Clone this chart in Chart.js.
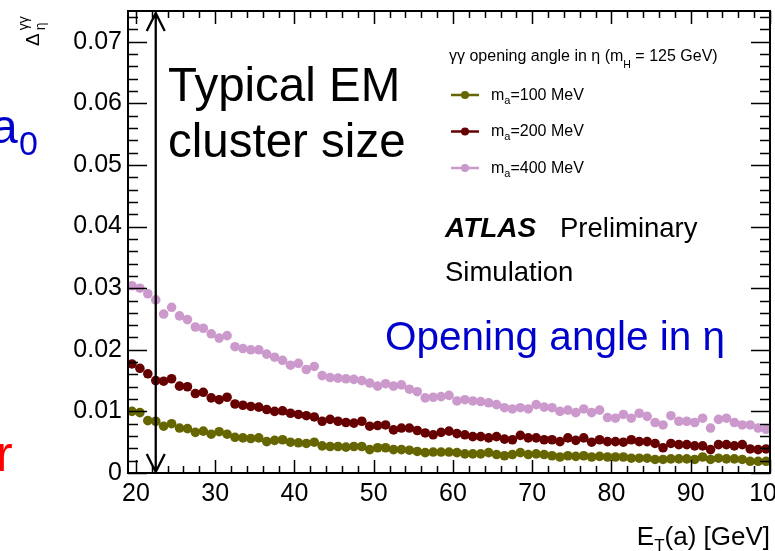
<!DOCTYPE html>
<html>
<head>
<meta charset="utf-8">
<script src="https://cdn.jsdelivr.net/npm/chart.js@4.4.1/dist/chart.umd.min.js"></script>
<style>
  html, body { margin: 0; padding: 0; background: #fff; }
  #wrap { position: relative; width: 775px; height: 551px; overflow: hidden; }
</style>
</head>
<body>
<div id="wrap"><canvas id="angleChart" width="775" height="551"></canvas></div>
<script>
// E_T(a) bin centres [GeV]
const etBins = [
  19.5, 20.5, 21.5, 22.5, 23.5, 24.5, 25.5, 26.5, 27.5, 28.5, 29.5, 30.5, 31.5, 32.5, 33.5, 34.5,
  35.5, 36.5, 37.5, 38.5, 39.5, 40.5, 41.5, 42.5, 43.5, 44.5, 45.5, 46.5, 47.5, 48.5, 49.5, 50.5,
  51.5, 52.5, 53.5, 54.5, 55.5, 56.5, 57.5, 58.5, 59.5, 60.5, 61.5, 62.5, 63.5, 64.5, 65.5, 66.5,
  67.5, 68.5, 69.5, 70.5, 71.5, 72.5, 73.5, 74.5, 75.5, 76.5, 77.5, 78.5, 79.5, 80.5, 81.5, 82.5,
  83.5, 84.5, 85.5, 86.5, 87.5, 88.5, 89.5, 90.5, 91.5, 92.5, 93.5, 94.5, 95.5, 96.5, 97.5, 98.5, 99.5
];

// opening angle in eta, m_a = 100 MeV
const ma100 = [
  0.0100, 0.0098, 0.0085, 0.0084, 0.0076, 0.0080, 0.0073, 0.0072, 0.0066, 0.0068, 0.0063, 0.0067, 0.0063, 0.0058, 0.0057, 0.0056,
  0.0057, 0.0051, 0.0053, 0.0054, 0.0050, 0.0049, 0.0048, 0.0050, 0.0044, 0.0043, 0.0043, 0.0042, 0.0043, 0.0043, 0.0038, 0.0041,
  0.0041, 0.0038, 0.0038, 0.0037, 0.0035, 0.0033, 0.0034, 0.0034, 0.0034, 0.0033, 0.0031, 0.0031, 0.0031, 0.0033, 0.0030, 0.0028,
  0.0030, 0.0033, 0.0030, 0.0031, 0.0030, 0.0028, 0.0026, 0.0028, 0.0027, 0.0028, 0.0026, 0.0027, 0.0026, 0.0026, 0.0026, 0.0024,
  0.0024, 0.0024, 0.0022, 0.0022, 0.0023, 0.0023, 0.0023, 0.0022, 0.0026, 0.0022, 0.0024, 0.0023, 0.0023, 0.0022, 0.0019, 0.0019, 0.0019
];

// m_a = 200 MeV
const ma200 = [
  0.0177, 0.0170, 0.0161, 0.0150, 0.0149, 0.0153, 0.0141, 0.0140, 0.0129, 0.0131, 0.0122, 0.0119, 0.0123, 0.0112, 0.0110, 0.0108,
  0.0107, 0.0103, 0.0100, 0.0101, 0.0097, 0.0095, 0.0093, 0.0091, 0.0084, 0.0087, 0.0084, 0.0082, 0.0081, 0.0084, 0.0076, 0.0077,
  0.0078, 0.0070, 0.0073, 0.0073, 0.0069, 0.0065, 0.0062, 0.0066, 0.0068, 0.0064, 0.0062, 0.0059, 0.0059, 0.0057, 0.0059, 0.0055,
  0.0054, 0.0061, 0.0057, 0.0057, 0.0054, 0.0054, 0.0051, 0.0057, 0.0053, 0.0057, 0.0050, 0.0054, 0.0051, 0.0051, 0.0050, 0.0054,
  0.0051, 0.0051, 0.0048, 0.0041, 0.0048, 0.0046, 0.0046, 0.0044, 0.0044, 0.0038, 0.0046, 0.0046, 0.0044, 0.0046, 0.0039, 0.0038, 0.0039
];

// m_a = 400 MeV
const ma400 = [
  0.0304, 0.0300, 0.0291, 0.0281, 0.0258, 0.0269, 0.0255, 0.0249, 0.0237, 0.0235, 0.0226, 0.0219, 0.0223, 0.0205, 0.0202, 0.0200,
  0.0200, 0.0193, 0.0188, 0.0183, 0.0175, 0.0178, 0.0168, 0.0173, 0.0158, 0.0155, 0.0154, 0.0153, 0.0152, 0.0150, 0.0146, 0.0141,
  0.0145, 0.0141, 0.0143, 0.0136, 0.0132, 0.0122, 0.0123, 0.0124, 0.0126, 0.0117, 0.0119, 0.0117, 0.0116, 0.0114, 0.0111, 0.0106,
  0.0104, 0.0106, 0.0104, 0.0111, 0.0107, 0.0106, 0.0100, 0.0102, 0.0098, 0.0104, 0.0098, 0.0102, 0.0090, 0.0089, 0.0095, 0.0089,
  0.0097, 0.0092, 0.0082, 0.0078, 0.0093, 0.0084, 0.0084, 0.0082, 0.0089, 0.0073, 0.0087, 0.0089, 0.0082, 0.0078, 0.0078, 0.0073, 0.0071
];

const xTicks = [20, 30, 40, 50, 60, 70, 80, 90, 100];
const yTicks = [0, 0.01, 0.02, 0.03, 0.04, 0.05, 0.06, 0.07];

const seriesLabels = ['100', '200', '400'];
const seriesColors = ['#666600', '#660000', '#cc99cc'];

const FONT = '"Liberation Sans", Arial, Helvetica, sans-serif';

// draw a run of text pieces: [text, size, dy, style]
function drawRuns(ctx, x, y, runs) {
  runs.forEach(r => {
    ctx.font = (r[3] || '') + ' ' + r[1] + 'px ' + FONT;
    ctx.fillText(r[0], x, y + (r[2] || 0));
    x += ctx.measureText(r[0]).width;
  });
  return x;
}

function runsWidth(ctx, runs) {
  let w = 0;
  runs.forEach(r => {
    ctx.font = (r[3] || '') + ' ' + r[1] + 'px ' + FONT;
    w += ctx.measureText(r[0]).width;
  });
  return w;
}

// ROOT-like frame with ticks on all four sides
const framePlugin = {
  id: 'frame',
  afterDatasetsDraw(chart) {
    const {ctx, chartArea: a, scales: {x, y}} = chart;
    ctx.save();
    ctx.strokeStyle = '#000';
    ctx.lineWidth = 1.5;
    ctx.beginPath();
    for (let v = 20; v <= 100; v += 2) {
      const px = Math.round(x.getPixelForValue(v)) + 0.5;
      const len = v % 10 === 0 ? 13 : 7;
      ctx.moveTo(px, a.bottom); ctx.lineTo(px, a.bottom - len);
      ctx.moveTo(px, a.top); ctx.lineTo(px, a.top + len);
    }
    for (let k = 0; k <= 37; k++) {
      const py = Math.round(y.getPixelForValue(k * 0.002)) + 0.5;
      const len = k % 5 === 0 ? 19 : 10;
      ctx.moveTo(a.left, py); ctx.lineTo(a.left + len, py);
      ctx.moveTo(a.right, py); ctx.lineTo(a.right - len, py);
    }
    ctx.stroke();
    ctx.lineWidth = 2;
    ctx.strokeRect(a.left, a.top, a.right - a.left, a.bottom - a.top);
    ctx.restore();
  }
};

// labels, legend, arrow and axis titles
const notesPlugin = {
  id: 'notes',
  afterDraw(chart) {
    const {ctx, chartArea: a, scales: {x}} = chart;
    ctx.save();
    ctx.fillStyle = '#000';
    ctx.textBaseline = 'alphabetic';
    ctx.textAlign = 'left';

    // cluster size arrow
    const ax = x.getPixelForValue(22.5);
    ctx.strokeStyle = '#000';
    ctx.lineWidth = 2.3;
    ctx.beginPath();
    ctx.moveTo(ax, a.top + 2); ctx.lineTo(ax, a.bottom - 1);
    ctx.moveTo(ax - 9, a.top + 20); ctx.lineTo(ax, a.top + 2); ctx.lineTo(ax + 9, a.top + 20);
    ctx.moveTo(ax - 9, a.bottom - 19); ctx.lineTo(ax, a.bottom - 1); ctx.lineTo(ax + 9, a.bottom - 19);
    ctx.stroke();

    ctx.font = '47.5px ' + FONT;
    ctx.fillText('Typical EM', 168, 101);
    ctx.fillText('cluster size', 168, 157);

    // legend
    drawRuns(ctx, 449, 61, [
      ['\u03b3\u03b3 opening angle in \u03b7 (m', 16], ['H', 10.5, 7], [' = 125 GeV)', 16]
    ]);
    seriesLabels.forEach((m, i) => {
      const ly = 95 + i * 36.5;
      ctx.strokeStyle = seriesColors[i];
      ctx.fillStyle = seriesColors[i];
      ctx.lineWidth = 2.5;
      ctx.beginPath(); ctx.moveTo(451, ly); ctx.lineTo(479, ly); ctx.stroke();
      ctx.beginPath(); ctx.arc(465, ly, 4, 0, Math.PI * 2); ctx.fill();
      ctx.fillStyle = '#000';
      drawRuns(ctx, 491, ly + 4.5, [['m', 16], ['a', 11, 4], ['=' + m + ' MeV', 16]]);
    });

    ctx.font = 'italic bold 28px ' + FONT;
    ctx.fillText('ATLAS', 445, 237);
    ctx.font = '27.5px ' + FONT;
    ctx.fillText('Preliminary', 560, 237);
    ctx.fillText('Simulation', 445, 281);

    ctx.fillStyle = '#0000cc';
    ctx.font = '40.5px ' + FONT;
    ctx.fillText('Opening angle in \u03b7', 385, 350);

    // x title, right aligned to the frame
    ctx.fillStyle = '#000';
    const xTitle = [['E', 26], ['T', 17, 6], ['(a) [GeV]', 26]];
    drawRuns(ctx, 770 - runsWidth(ctx, xTitle), 545, xTitle);

    // y title, rotated
    ctx.save();
    ctx.translate(39, 46);
    ctx.rotate(-Math.PI / 2);
    ctx.font = '19px ' + FONT;
    ctx.fillText('\u0394', 0, 0);
    const dw = ctx.measureText('\u0394').width;
    ctx.font = '14px ' + FONT;
    ctx.fillText('\u03b7', dw + 3, 6);
    ctx.fillText('\u03b3\u03b3', dw + 3, -11);
    ctx.restore();

    // slide text cut at the left edge
    ctx.fillStyle = '#0000cc';
    ctx.font = '48px ' + FONT;
    ctx.fillText('a', -9, 143);
    ctx.font = '34px ' + FONT;
    ctx.fillText('0', 19, 155);
    ctx.fillStyle = '#ff0000';
    ctx.font = '50px ' + FONT;
    ctx.fillText('r', -4, 471);
    ctx.restore();
  }
};

function makeSet(values, i) {
  return {
    label: 'm_a=' + seriesLabels[i] + ' MeV',
    data: etBins.map((e, k) => ({x: e, y: values[k]})),
    showLine: false,
    pointRadius: 4.8,
    pointBorderWidth: 0,
    pointBackgroundColor: seriesColors[i],
    pointBorderColor: seriesColors[i]
  };
}

const ctx = document.getElementById('angleChart').getContext('2d');
new Chart(ctx, {
  type: 'scatter',
  data: {
    datasets: [makeSet(ma100, 0), makeSet(ma200, 1), makeSet(ma400, 2)]
  },
  options: {
    responsive: false,
    animation: false,
    devicePixelRatio: 1,
    layout: { padding: { left: 0, right: 5, top: 11, bottom: 0 } },
    plugins: { legend: { display: false }, tooltip: { enabled: false } },
    scales: {
      x: {
        type: 'linear',
        min: 19,
        max: 100,
        grid: { display: false, drawTicks: false },
        border: { display: false },
        afterBuildTicks: axis => { axis.ticks = xTicks.map(v => ({value: v})); },
        afterFit: scale => { scale.height = 78; scale.paddingLeft = 0; scale.paddingRight = 0; },
        ticks: {
          autoSkip: false,
          maxRotation: 0,
          padding: 6,
          color: '#000',
          font: { family: FONT, size: 25 },
          callback: v => String(v)
        }
      },
      y: {
        min: 0,
        max: 0.075,
        grid: { display: false, drawTicks: false },
        border: { display: false },
        afterBuildTicks: axis => { axis.ticks = yTicks.map(v => ({value: v})); },
        afterFit: scale => { scale.width = 128; scale.paddingTop = 0; scale.paddingBottom = 0; },
        ticks: {
          padding: 6,
          color: '#000',
          font: { family: FONT, size: 25 },
          callback: v => v === 0 ? '0' : v.toFixed(2)
        }
      }
    }
  },
  plugins: [framePlugin, notesPlugin]
});
</script>
</body>
</html>
